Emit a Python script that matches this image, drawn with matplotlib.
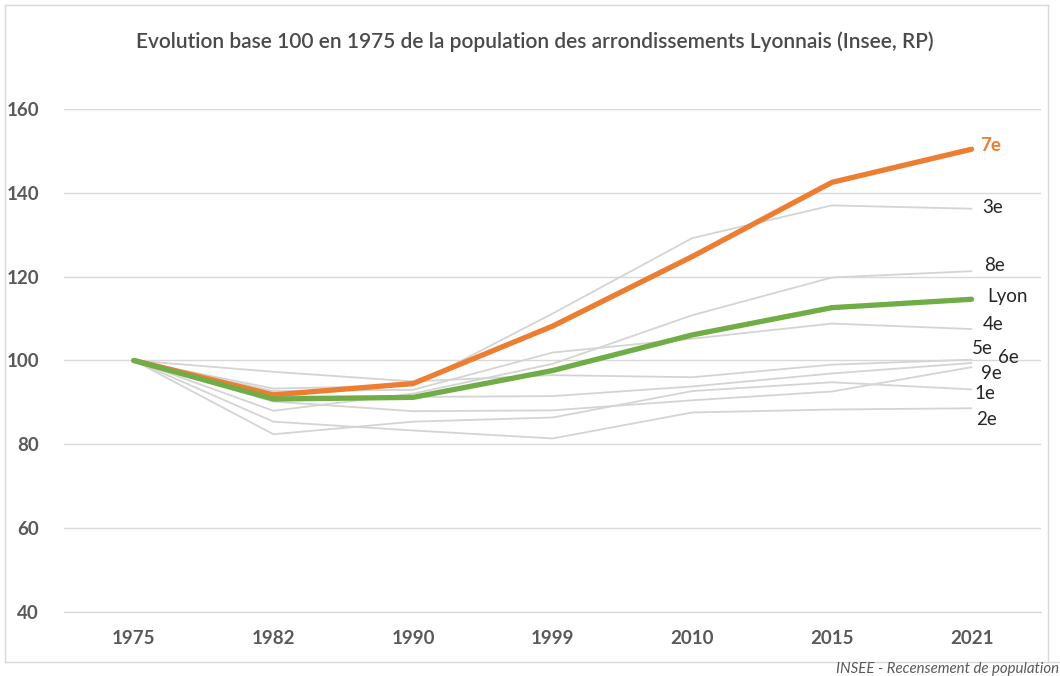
import numpy as np
import matplotlib
matplotlib.use('Agg')
import matplotlib.pyplot as plt
from matplotlib.lines import Line2D

# census years (categorical axis)
years = ['1975', '1982', '1990', '1999', '2010', '2015', '2021']

# index base 100 in 1975
arr_1e = [100, 82.4, 85.4, 86.4, 92.7, 94.8, 93.1]
arr_2e = [100, 85.4, 83.3, 81.4, 87.6, 88.3, 88.6]
arr_3e = [100, 93.3, 94.0, 111.2, 129.2, 137.0, 136.2]
arr_4e = [100, 92.7, 93.0, 101.9, 105.2, 108.8, 107.5]
arr_5e = [100, 97.3, 95.0, 96.5, 96.0, 99.0, 100.2]
arr_6e = [100, 91.5, 91.3, 91.5, 93.8, 96.9, 99.4]
arr_8e = [100, 88.0, 92.1, 99.2, 110.8, 119.8, 121.3]
arr_9e = [100, 90.2, 87.9, 88.1, 90.5, 92.6, 98.4]
arr_7e = [100, 91.8, 94.5, 108.2, 124.8, 142.5, 150.4]
lyon = [100, 90.8, 91.2, 97.6, 106.1, 112.6, 114.6]

grey_series = {'1e': arr_1e, '2e': arr_2e, '3e': arr_3e, '4e': arr_4e,
               '5e': arr_5e, '6e': arr_6e, '8e': arr_8e, '9e': arr_9e}

# end-label placement: (x offset in category units, y value of label centre)
label_pos = {'7e': (0.06, 151.2), '3e': (0.08, 136.4), '8e': (0.09, 122.6),
             'Lyon': (0.11, 115.2), '4e': (0.08, 108.6), '5e': (0.0, 102.9),
             '6e': (0.19, 100.7), '9e': (0.065, 96.9), '1e': (0.02, 92.1),
             '2e': (0.03, 86.0)}

FONT = ['Lato', 'DejaVu Sans']
GREY_TXT = '#595959'
ORANGE = '#ed7d31'
GREEN = '#70ad47'

fig = plt.figure(figsize=(10.6, 6.76), dpi=100)
ax = fig.add_axes([0.0604, 0.0947, 0.922, 0.7441])
x = np.arange(len(years))

for name, vals in grey_series.items():
    ax.plot(x, vals, color='#d4d4d4', lw=1.3, zorder=2, solid_capstyle='round')
ax.plot(x, arr_7e, color=ORANGE, lw=3.8, zorder=4, solid_capstyle='round',
        solid_joinstyle='round')
ax.plot(x, lyon, color=GREEN, lw=3.8, zorder=5, solid_capstyle='round',
        solid_joinstyle='round')

# end labels
last = len(years) - 1
for name, (dx, yv) in label_pos.items():
    if name == '7e':
        ax.text(last + dx, yv, name, color=ORANGE, fontsize=13.5, fontweight='bold',
                va='center', ha='left', family=FONT, clip_on=False)
    else:
        ax.text(last + dx, yv, name, color='#262626', fontsize=13.5,
                va='center', ha='left', family=FONT, clip_on=False)

ax.set_xlim(-0.5, 6.5)
ax.set_ylim(40, 160)
ax.set_yticks(np.arange(40, 161, 20))
ax.set_xticks(x)
ax.set_xticklabels(years)
ax.grid(axis='y', color='#d9d9d9', lw=1.0, zorder=0)
for s in ['top', 'right', 'left']:
    ax.spines[s].set_visible(False)
ax.spines['bottom'].set_color('#d9d9d9')
ax.spines['bottom'].set_linewidth(1.0)
ax.tick_params(length=0, labelsize=13.5, labelcolor=GREY_TXT, pad=13)
ax.tick_params(axis='y', pad=18)
for lab in ax.get_xticklabels() + ax.get_yticklabels():
    lab.set_fontweight('bold')
    lab.set_family(FONT)

fig.text(0.505, 0.938,
         'Evolution base 100 en 1975 de la population des arrondissements Lyonnais (Insee, RP)',
         ha='center', va='center', fontsize=15, color='#4a4a4a', family=FONT,
         fontweight='semibold')

fig.text(0.789, 0.010, 'INSEE - Recensement de population', ha='left', va='center',
         fontsize=10.8, style='italic', color=GREY_TXT, family=FONT)

# chart frame
W, H = 1060, 676
frame = dict(color='#d9d9d9', lw=1.0, transform=fig.transFigure)
fig.add_artist(Line2D([5 / W, 1048 / W], [1 - 5 / H, 1 - 5 / H], **frame))
fig.add_artist(Line2D([5 / W, 5 / W], [1 - 5 / H, 1 - 662 / H], **frame))
fig.add_artist(Line2D([5 / W, 1060 / W], [1 - 662 / H, 1 - 662 / H], **frame))
fig.add_artist(Line2D([1048 / W, 1048 / W], [1 - 5 / H, 1 - 662 / H], **frame))

fig.savefig('out.png', dpi=100)
